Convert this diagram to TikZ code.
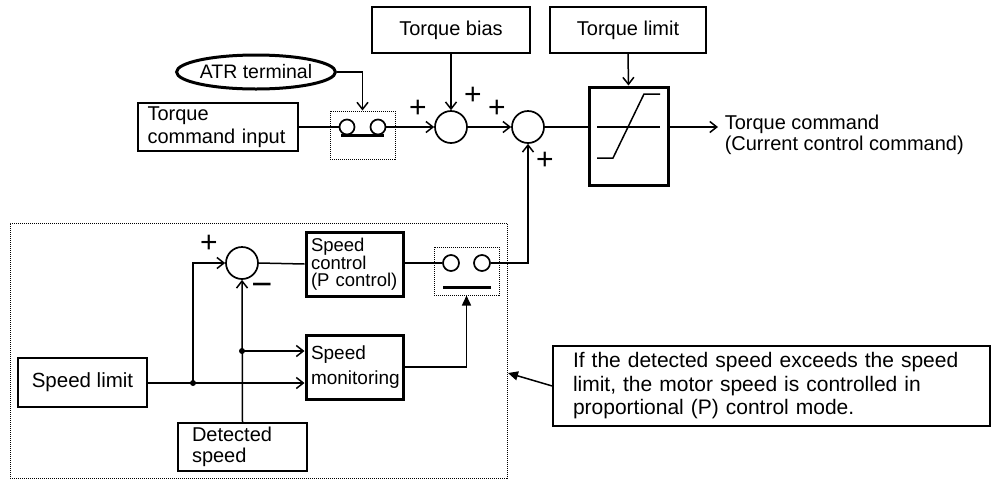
\documentclass[tikz,border=0pt]{standalone}
\usepackage{fontspec}
\setmainfont{Liberation Sans}
\usetikzlibrary{arrows.meta,shapes.geometric}
\begin{document}
\begin{tikzpicture}[x=1pt,y=-1pt,line width=1.5pt,
  txt/.style={font=\fontsize{20}{23}\selectfont},
  box/.style={draw,line width=1.5pt,inner sep=0pt,txt},
  tbox/.style={draw,line width=3pt,inner sep=0pt},
  dbox/.style={draw,line width=1pt,dash pattern=on 1pt off 1pt,inner sep=0pt},
  sumc/.style={draw,circle,line width=1.7pt,minimum size=32pt,inner sep=0pt},
  swc/.style={draw,circle,line width=1.7pt,minimum size=16pt,inner sep=0pt},
  arr/.style={-{Straight Barb[length=7pt,width=11pt,line width=1.5pt]}},
  farr/.style={-{Triangle[length=10pt,width=9pt]}},
  sign/.style={font=\fontsize{30}{30}\selectfont,inner sep=0pt},
  jdot/.style={circle,fill,inner sep=0pt,minimum size=6pt}]
\useasboundingbox (0,0) rectangle (992,480);

% top part
\node[box,minimum width=158pt,minimum height=46pt] (bias) at (451,30) {Torque bias};
\node[box,minimum width=156pt,minimum height=46pt] (tlim) at (628,30) {Torque limit};
\node[draw,ellipse,line width=3pt,minimum width=120pt,minimum height=34pt,inner sep=0pt,
      font=\fontsize{19.5}{20}\selectfont] (atr) at (256,72) {ATR terminal};
\node[box,minimum width=160pt,minimum height=48pt,text width=141pt,align=left,
      font=\fontsize{20}{23}\selectfont] (tci) at (218,127) {Torque\\command input};

\node[dbox,minimum width=65pt,minimum height=48pt] (sw1) at (362.5,135) {};
\node[swc,minimum size=15pt] (c1a) at (347,127) {};
\node[swc,minimum size=15pt] (c1b) at (378,127) {};
\draw[line width=3pt] (c1a.south west |- c1a.south) -- (c1b.south east |- c1b.south);

\node[sumc] (s1) at (451,127) {};
\node[sumc] (s2) at (528,127) {};

\node[tbox,minimum width=79pt,minimum height=98pt] (lim) at (628.5,136) {};
\draw (597,127) -- (660,127);
\draw (597,158) -- (613,158) -- (644,94) -- (660,94);

\draw (tci.east) -- (c1a.west);
\draw[arr] (c1b.east) -- (s1.west);
\draw[arr] (atr.east) -| (sw1.north);
\draw[arr] (bias.south) -- (s1.north);
\draw[arr] (s1.east) -- (s2.west);
\draw (s2.east) -- (s2.east -| lim.west);
\draw[arr] (tlim.south) -- (lim.north);
\coordinate (out) at (718,127);
\draw[arr] (lim.east |- s2) -- (out);
\node[anchor=west,align=left,inner sep=0pt,font=\fontsize{20}{21}\selectfont] (tc) at (724,135)
  {Torque command\\(Current control command)};

\node[sign] (p1) at (418,109) {+};
\node[sign] (p2) at (473,96) {+};
\node[sign] (p3) at (497,109) {+};
\node[sign] (p4) at (545,161) {+};

% lower group
\node[dbox,minimum width=497pt,minimum height=255pt] (grp) at (258.5,350.5) {};
\node[sumc] (s3) at (242,263) {};
\node[tbox,minimum width=97pt,minimum height=64pt,text width=87pt,align=left,
      font=\fontsize{18.5}{17}\selectfont] (sc) at (354.5,264) {Speed\\control\\(P control)};
\node[dbox,minimum width=65pt,minimum height=48pt] (sw2) at (466.5,271) {};
\node[swc] (c2a) at (451,263) {};
\node[swc] (c2b) at (482,263) {};
\draw[line width=3pt] (443,287) -- (491,287);
\node[tbox,minimum width=97pt,minimum height=64pt,text width=87pt,align=left,
      font=\fontsize{19}{25}\selectfont] (sm) at (354.5,367) {Speed\\monitoring};
\node[box,minimum width=129pt,minimum height=49pt,font=\fontsize{20.5}{23}\selectfont] (sl) at (82.5,382.5) {Speed limit};
\node[box,minimum width=129pt,minimum height=48pt,text width=101pt,align=left,
      font=\fontsize{20}{21}\selectfont] (ds) at (242.5,447) {Detected\\speed};

\draw (s3.east) -- (sc.west);
\draw (sc.east |- c2a) -- (c2a.west);
\draw[arr] (c2b.east) -| (s2.south);
\draw[farr] (sm.east) -| (sw2.south);

\node[jdot] (j1) at (193,383) {};
\node[jdot] (j2) at (242,351) {};
\draw[arr] (sl.east |- j1) -- (sm.west |- j1);
\draw[arr] (j1.center) |- (s3.west);
\draw[arr] (ds.north) -- (s3.south);
\draw[arr] (j2.center) -- (sm.west |- j2);

\node[sign] (p5) at (209,244) {+};
\node[sign,font=\fontsize{36}{36}\selectfont] (m1) at (262,290) {\textminus};

% note
\node[box,minimum width=437pt,minimum height=80pt,text width=397pt,align=left,
      font=\fontsize{21}{23.5}\selectfont] (note) at (771.5,386)
  {If the detected speed exceeds the speed\\limit, the motor speed is controlled in\\proportional (P) control mode.};
\coordinate (ntip) at (508,373);
\draw[farr] (note.west) -- (ntip);
\end{tikzpicture}
\end{document}
